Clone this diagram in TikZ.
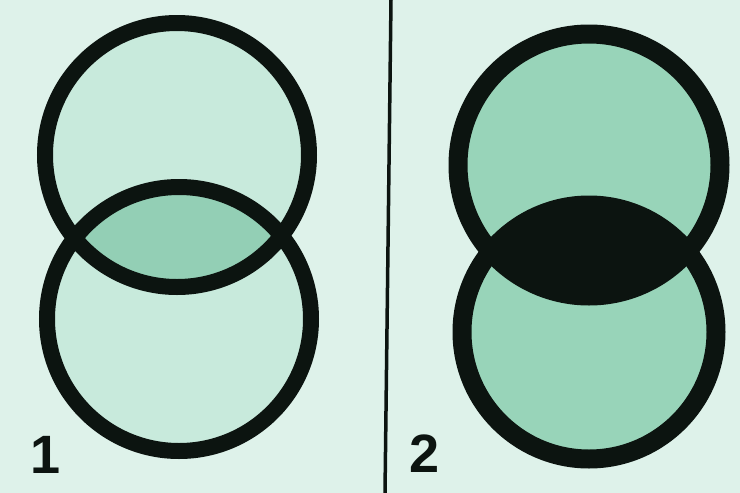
\documentclass[tikz,border=0pt]{standalone}
\usepackage{fontspec}
\setmainfont{Liberation Sans}
\usetikzlibrary{positioning}
\definecolor{paper}{RGB}{222,242,234}
\definecolor{palegreen}{RGB}{200,234,220}
\definecolor{lensgreen}{RGB}{147,207,181}
\definecolor{midgreen}{RGB}{152,212,185}
\definecolor{ink}{RGB}{12,20,16}

\tikzset{
  ringthin/.style={draw=ink, line width=16pt},
  ringthick/.style={draw=ink, line width=19pt},
  digit/.style={inner sep=0pt, text=ink, font=\fontsize{54}{60}\selectfont\bfseries}
}

\begin{document}
\begin{tikzpicture}[x=1pt,y=-1pt]
\fill[paper] (0,0) rectangle (740,493);
\useasboundingbox (0,0) rectangle (740,493);

\begin{scope}
  % Panel 1: pale discs, tinted overlap
  \coordinate (topA) at (177,155);
  \coordinate (botA) at (179,319);
  \fill[palegreen] (topA) circle (132pt) (botA) circle (132pt);
  \begin{scope}
    \clip (topA) circle (132pt);
    \fill[lensgreen] (botA) circle (132pt);
  \end{scope}
  \draw[ringthin] (topA) circle (132pt);
  \draw[ringthin] (botA) circle (132pt);
  \node[digit] (one) at (46,455) {1};
\end{scope}

% divider
\draw[ink, line width=3.5pt] (391,0) -- (385,493);

\begin{scope}
  % Panel 2: darker discs, black overlap
  \coordinate (topB) at (589,165);
  \coordinate (botB) at (589,332);
  \fill[midgreen] (topB) circle (131pt) (botB) circle (127pt);
  \begin{scope}
    \clip (topB) circle (131pt);
    \fill[ink] (botB) circle (127pt);
  \end{scope}
  \draw[ringthick] (topB) circle (131pt);
  \draw[ringthick] (botB) circle (127pt);
  \node[digit] (two) at (425,454) {2};
\end{scope}
\end{tikzpicture}
\end{document}
